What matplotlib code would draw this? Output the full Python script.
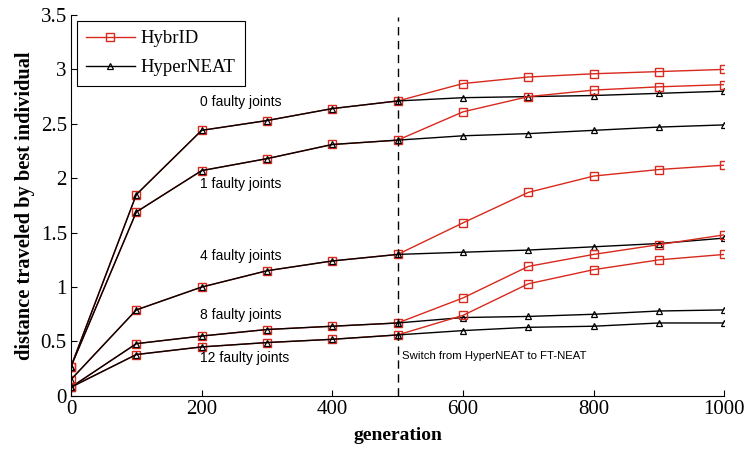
import numpy as np
import matplotlib.pyplot as plt

gen = [0, 100, 200, 300, 400, 500, 600, 700, 800, 900, 1000]

# shared part (0..500) is identical for both methods
hybrid_0 = [0.27, 1.85, 2.44, 2.53, 2.64, 2.71, 2.87, 2.93, 2.96, 2.98, 3.00]
hyper_0 = [0.27, 1.85, 2.44, 2.53, 2.64, 2.71, 2.74, 2.75, 2.76, 2.78, 2.80]
hybrid_1 = [0.27, 1.69, 2.07, 2.18, 2.31, 2.35, 2.61, 2.75, 2.81, 2.84, 2.86]
hyper_1 = [0.27, 1.69, 2.07, 2.18, 2.31, 2.35, 2.39, 2.41, 2.44, 2.47, 2.49]
hybrid_4 = [0.15, 0.79, 1.00, 1.15, 1.24, 1.30, 1.59, 1.87, 2.02, 2.08, 2.12]
hyper_4 = [0.15, 0.79, 1.00, 1.15, 1.24, 1.30, 1.32, 1.34, 1.37, 1.40, 1.45]
hybrid_8 = [0.08, 0.48, 0.55, 0.61, 0.64, 0.67, 0.90, 1.19, 1.30, 1.39, 1.48]
hyper_8 = [0.08, 0.48, 0.55, 0.61, 0.64, 0.67, 0.72, 0.73, 0.75, 0.78, 0.79]
hybrid_12 = [0.08, 0.38, 0.45, 0.49, 0.52, 0.56, 0.74, 1.03, 1.16, 1.25, 1.30]
hyper_12 = [0.08, 0.38, 0.45, 0.49, 0.52, 0.56, 0.60, 0.63, 0.64, 0.67, 0.67]

labels = ["0 faulty joints", "1 faulty joints", "4 faulty joints",
          "8 faulty joints", "12 faulty joints"]
label_y = [2.70, 1.95, 1.285, 0.74, 0.35]

switch_gen = 500

red = '#d8291c'

fig = plt.figure(figsize=(7.45, 4.54), dpi=100)
ax = fig.add_axes([0.0953, 0.128, 0.877, 0.839])

hybrids = [hybrid_0, hybrid_1, hybrid_4, hybrid_8, hybrid_12]
hypers = [hyper_0, hyper_1, hyper_4, hyper_8, hyper_12]

for i, (hb, hp) in enumerate(zip(hybrids, hypers)):
    ax.plot(gen, hb, '-s', color=red, lw=1, markersize=6, mfc='none', mew=1,
            label="HybrID" if i == 0 else None)
    ax.plot(gen, hp, '-^', color='black', lw=1, markersize=4.5, mfc='none', mew=0.9,
            label="HyperNEAT" if i == 0 else None)

for txt, y in zip(labels, label_y):
    ax.text(198, y, txt, fontsize=10, family='Liberation Sans', va='center')

ax.plot([switch_gen, switch_gen], [0, 3.48], '--', color='black', lw=1, dashes=(6, 4))
ax.text(507, 0.37, "Switch from HyperNEAT to FT-NEAT", fontsize=8.2,
        family='Liberation Sans', va='center')

ax.set_xlim(0, 1000)
ax.set_ylim(0, 3.5)
ax.set_xticks([0, 200, 400, 600, 800, 1000])
ax.set_yticks([0, 0.5, 1, 1.5, 2, 2.5, 3, 3.5])
ax.set_yticklabels(['0', '0.5', '1', '1.5', '2', '2.5', '3', '3.5'])
ax.spines['top'].set_visible(False)
ax.spines['right'].set_visible(False)
ax.tick_params(direction='in', length=4, labelsize=15, pad=3)
for lbl in ax.get_xticklabels() + ax.get_yticklabels():
    lbl.set_family('Liberation Serif')

ax.set_xlabel("generation", fontsize=14, fontweight='bold', family='Liberation Serif',
              labelpad=6)
ax.set_ylabel("distance traveled by best individual", fontsize=14.7,
              fontweight='bold', family='Liberation Serif', labelpad=4)

leg = ax.legend(loc='upper left', prop={'family': 'Liberation Serif', 'size': 13.5},
                fancybox=False, edgecolor='black', framealpha=1,
                borderaxespad=0.3, handlelength=2.6, handletextpad=0.3,
                labelspacing=0.65, borderpad=0.5)
leg.get_frame().set_linewidth(0.8)

fig.savefig('out.png', dpi=100)
